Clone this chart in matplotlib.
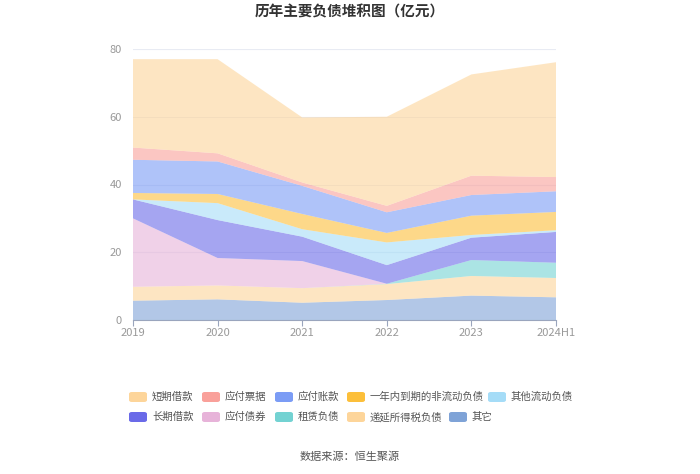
import matplotlib.pyplot as plt
import matplotlib.patches as mpatches
import numpy as np

plt.rcParams['font.family'] = ['Noto Sans CJK SC', 'DejaVu Sans']

# data (亿元), bottom of stack first
years = ["2019", "2020", "2021", "2022", "2023", "2024H1"]
qita = [5.7, 6.1, 5.1, 5.9, 7.2, 6.7]          # 其它
diyan = [4.1, 4.1, 4.3, 4.7, 5.8, 5.7]         # 递延所得税负债
zulin = [0, 0, 0, 0.1, 4.7, 4.5]               # 租赁负债
zhaiquan = [20.2, 8.1, 8.0, 0, 0, 0]           # 应付债券
changqi = [5.6, 11.2, 7.2, 5.5, 6.6, 9.1]      # 长期借款
qitaliudong = [0, 5.0, 2.2, 6.7, 0.8, 0.5]     # 其他流动负债
yinian = [1.9, 2.7, 4.5, 2.8, 5.7, 5.4]        # 一年内到期的非流动负债
zhangkuan = [9.8, 9.6, 8.3, 6.1, 6.1, 6.1]     # 应付账款
piaoju = [3.6, 2.4, 1.0, 1.9, 5.7, 4.2]        # 应付票据
duanqi = [26.1, 27.8, 19.2, 26.3, 29.9, 33.9]  # 短期借款

stack = [qita, diyan, zulin, zhaiquan, changqi, qitaliudong, yinian, zhangkuan, piaoju, duanqi]
stack_colors = ["#7fa3d7", "#fdd59a", "#73d2d2", "#e7b3d9", "#6a6ae8",
                "#a5dcf7", "#fcbf3a", "#7b9cf5", "#f9a09a", "#fdd59a"]

legend_rows = [
    [("短期借款", "#fdd59a"), ("应付票据", "#f9a09a"), ("应付账款", "#7b9cf5"),
     ("一年内到期的非流动负债", "#fcbf3a"), ("其他流动负债", "#a5dcf7")],
    [("长期借款", "#6a6ae8"), ("应付债券", "#e7b3d9"), ("租赁负债", "#73d2d2"),
     ("递延所得税负债", "#fdd59a"), ("其它", "#7fa3d7")],
]

fig = plt.figure(figsize=(7, 4.74), dpi=100)
ax = fig.add_axes([133 / 700, 1 - 320 / 474, 423 / 700, 271 / 474])

x = np.arange(len(years))
ax.stackplot(x, *stack, colors=stack_colors, alpha=0.6, linewidth=0)

ax.set_xlim(0, len(years) - 1)
ax.set_ylim(0, 80)
ax.set_yticks([0, 20, 40, 60, 80])
ax.set_xticks(x)
ax.set_xticklabels(years)
ax.tick_params(axis="y", length=0, labelsize=8, labelcolor="#999999", pad=8)
ax.tick_params(axis="x", length=4, color="#9aa5bd", labelsize=8, labelcolor="#999999", pad=2)
ax.grid(axis="y", color="#e8ebf3", linewidth=0.8)
ax.set_axisbelow(True)
for s in ["top", "right", "left"]:
    ax.spines[s].set_visible(False)
ax.spines["bottom"].set_color("#9aa5bd")

fig.text(0.5, 1 - 12 / 474, "历年主要负债堆积图（亿元）", ha="center", va="center",
         fontsize=10.5, fontweight="bold", color="#333333")

# legend drawn by hand
starts = [[129, 202, 275, 347, 488], [129, 202, 275, 347, 449]]
for r, row in enumerate(legend_rows):
    yc = 397 + r * 20
    for (name, col), xs in zip(row, starts[r]):
        fig.patches.append(mpatches.FancyBboxPatch(
            (xs / 700, (474 - yc - 5) / 474), 18 / 700, 10 / 474,
            boxstyle="round,pad=0,rounding_size=0.004", transform=fig.transFigure,
            facecolor=col, edgecolor="none"))
        fig.text((xs + 23) / 700, 1 - yc / 474, name, ha="left", va="center",
                 fontsize=7.5, color="#555555")

fig.text(0.5, 1 - 457 / 474, "数据来源：恒生聚源", ha="center", va="center",
         fontsize=8, color="#555555")

fig.savefig("out.png", dpi=100)
